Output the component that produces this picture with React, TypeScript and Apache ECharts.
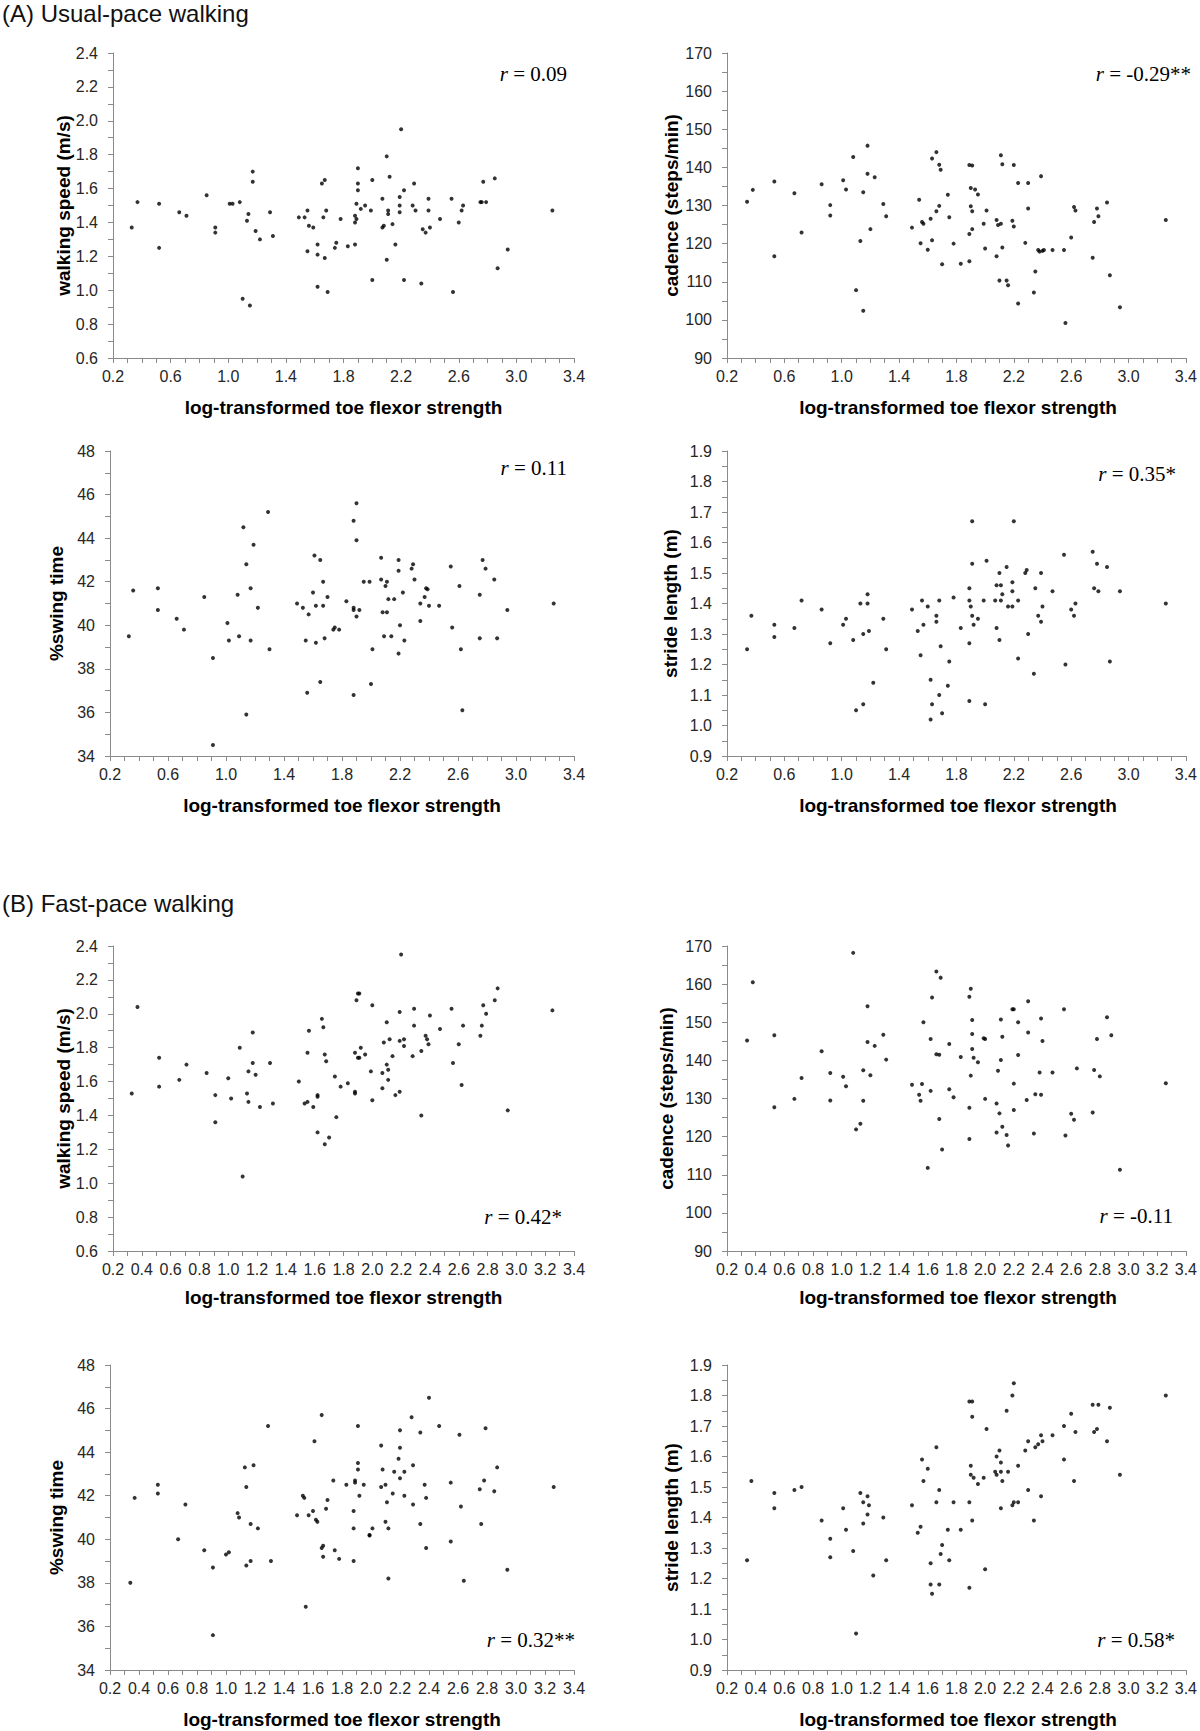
import React, { useEffect, useRef } from 'react';
import * as echarts from 'echarts';

// ---- DATA ----
const usualSpeed: [number, number][] = [
  [0.33,1.37],[0.37,1.52],[0.52,1.51],[0.52,1.25],[0.66,1.46],[0.71,1.44],[0.85,1.56],[0.91,1.37],[0.91,1.34],[1.01,1.51],[1.03,1.51],[1.08,1.52],[1.10,0.95],[1.13,1.41],[1.14,1.45],[1.15,0.91],[1.17,1.70],[1.17,1.64],[1.19,1.35],[1.22,1.30],[1.29,1.46],[1.31,1.32],[1.49,1.43],[1.53,1.43],[1.55,1.23],[1.55,1.47],[1.56,1.38],[1.59,1.37],[1.62,1.21],[1.62,1.27],[1.62,1.02],[1.65,1.63],[1.67,1.65],[1.66,1.43],[1.67,1.19],[1.68,1.47],[1.69,0.99],[1.74,1.25],[1.75,1.28],[1.78,1.42],[1.83,1.26],[1.88,1.27],[1.88,1.40],[1.88,1.44],[1.89,1.51],[1.89,1.42],[1.90,1.72],[1.90,1.63],[1.90,1.59],[1.92,1.48],[1.95,1.50],[1.99,1.47],[2.00,1.65],[2.00,1.06],[2.07,1.54],[2.07,1.37],[2.08,1.38],[2.10,1.18],[2.10,1.79],[2.11,1.47],[2.11,1.45],[2.12,1.67],[2.14,1.39],[2.16,1.27],[2.19,1.55],[2.19,1.50],[2.19,1.46],[2.20,1.95],[2.22,1.59],[2.22,1.06],[2.28,1.50],[2.29,1.63],[2.30,1.47],[2.34,1.04],[2.35,1.36],[2.37,1.34],[2.39,1.54],[2.39,1.47],[2.40,1.37],[2.47,1.42],[2.55,1.54],[2.56,0.99],[2.60,1.40],[2.62,1.47],[2.63,1.50],[2.75,1.52],[2.76,1.52],[2.77,1.64],[2.79,1.52],[2.85,1.66],[2.87,1.13],[2.94,1.24],[3.25,1.47]
];

const usualCadence: [number, number][] = [
  [0.34,131.0],[0.38,134.1],[0.53,136.3],[0.53,116.7],[0.67,133.2],[0.72,122.9],[0.86,135.6],[0.92,130.1],[0.92,127.4],[1.01,136.6],[1.03,134.2],[1.08,142.7],[1.10,107.8],[1.13,120.7],[1.15,133.5],[1.15,102.4],[1.18,145.7],[1.18,138.3],[1.20,123.8],[1.23,137.4],[1.29,130.4],[1.31,127.2],[1.49,124.2],[1.54,131.5],[1.55,120.1],[1.56,125.7],[1.57,125.2],[1.60,118.4],[1.62,126.5],[1.63,120.9],[1.63,142.3],[1.66,144.0],[1.66,128.5],[1.68,140.7],[1.68,129.9],[1.69,139.4],[1.70,114.6],[1.74,132.8],[1.75,126.9],[1.78,120.0],[1.83,114.7],[1.89,140.6],[1.89,122.5],[1.89,115.4],[1.90,134.6],[1.90,129.8],[1.91,140.5],[1.91,128.5],[1.91,123.8],[1.93,134.2],[1.95,132.9],[1.99,125.2],[2.00,118.7],[2.01,128.7],[2.08,116.7],[2.08,126.2],[2.09,124.9],[2.10,110.3],[2.11,143.2],[2.11,125.2],[2.12,119.0],[2.12,140.8],[2.15,110.3],[2.16,109.1],[2.19,126.0],[2.20,124.5],[2.20,140.6],[2.23,135.9],[2.23,104.3],[2.28,120.2],[2.30,135.9],[2.30,129.2],[2.34,107.2],[2.35,112.7],[2.37,118.3],[2.38,117.9],[2.39,137.7],[2.40,118.1],[2.41,118.3],[2.47,118.3],[2.55,118.3],[2.56,99.2],[2.60,121.6],[2.62,129.6],[2.63,128.7],[2.75,116.3],[2.76,125.7],[2.78,129.2],[2.79,127.2],[2.85,130.8],[2.87,111.7],[2.94,103.3],[3.26,126.2]
];

const usualSwing: [number, number][] = [
  [0.33,39.5],[0.36,41.6],[0.53,41.7],[0.53,40.7],[0.66,40.3],[0.71,39.8],[0.85,41.3],[0.91,38.5],[0.91,34.5],[1.01,40.1],[1.02,39.3],[1.08,41.4],[1.09,39.5],[1.12,44.5],[1.14,42.8],[1.14,35.9],[1.17,41.7],[1.17,39.3],[1.19,43.7],[1.22,40.8],[1.29,45.2],[1.30,38.9],[1.49,41.0],[1.53,40.8],[1.55,39.3],[1.56,36.9],[1.57,40.5],[1.60,41.5],[1.61,43.2],[1.62,40.9],[1.62,39.2],[1.65,43.0],[1.65,37.4],[1.67,42.0],[1.67,40.9],[1.68,39.4],[1.70,41.3],[1.74,39.8],[1.75,39.9],[1.78,39.8],[1.83,41.1],[1.88,44.8],[1.88,40.8],[1.88,40.7],[1.88,36.8],[1.90,45.6],[1.90,43.9],[1.90,40.4],[1.92,40.7],[1.95,42.0],[1.99,42.0],[2.00,37.3],[2.01,38.9],[2.07,42.1],[2.07,43.1],[2.08,40.6],[2.09,39.5],[2.10,41.8],[2.11,42.0],[2.11,40.6],[2.12,41.2],[2.14,39.5],[2.16,41.2],[2.19,42.5],[2.19,43.0],[2.19,38.7],[2.20,40.0],[2.22,41.5],[2.23,39.3],[2.28,42.6],[2.29,42.8],[2.30,42.1],[2.34,40.2],[2.34,41.0],[2.37,41.3],[2.38,41.7],[2.39,41.65],[2.40,40.9],[2.47,40.9],[2.55,42.7],[2.56,39.9],[2.61,41.8],[2.62,38.9],[2.63,36.1],[2.75,41.4],[2.75,39.4],[2.77,43.0],[2.79,42.6],[2.85,42.1],[2.87,39.4],[2.94,40.7],[3.26,41.0]
];

const usualStride: [number, number][] = [
  [0.34,1.25],[0.37,1.36],[0.53,1.33],[0.53,1.29],[0.67,1.32],[0.72,1.41],[0.86,1.38],[0.92,1.27],[1.01,1.33],[1.03,1.35],[1.08,1.28],[1.10,1.05],[1.13,1.40],[1.15,1.30],[1.15,1.07],[1.18,1.43],[1.18,1.40],[1.19,1.31],[1.22,1.14],[1.29,1.35],[1.31,1.25],[1.49,1.38],[1.53,1.31],[1.55,1.23],[1.56,1.41],[1.57,1.33],[1.60,1.39],[1.62,1.15],[1.62,1.02],[1.63,1.07],[1.66,1.36],[1.66,1.34],[1.68,1.41],[1.68,1.10],[1.69,1.26],[1.70,1.04],[1.75,1.21],[1.74,1.13],[1.78,1.42],[1.83,1.32],[1.89,1.45],[1.89,1.41],[1.90,1.39],[1.89,1.27],[1.89,1.08],[1.91,1.67],[1.91,1.53],[1.91,1.36],[1.92,1.33],[1.95,1.35],[1.99,1.41],[2.01,1.54],[2.00,1.07],[2.07,1.41],[2.08,1.46],[2.08,1.32],[2.10,1.28],[2.10,1.50],[2.11,1.41],[2.11,1.46],[2.12,1.43],[2.15,1.52],[2.16,1.39],[2.19,1.47],[2.19,1.44],[2.19,1.39],[2.20,1.67],[2.23,1.41],[2.23,1.22],[2.28,1.50],[2.29,1.51],[2.30,1.30],[2.34,1.17],[2.35,1.45],[2.37,1.36],[2.39,1.50],[2.39,1.34],[2.40,1.39],[2.47,1.44],[2.55,1.56],[2.56,1.20],[2.60,1.38],[2.62,1.36],[2.63,1.40],[2.75,1.57],[2.76,1.45],[2.78,1.53],[2.79,1.44],[2.85,1.52],[2.87,1.21],[2.94,1.44],[3.26,1.40]
];

const fastSpeed: [number, number][] = [
  [0.33,1.53],[0.37,2.04],[0.52,1.74],[0.52,1.57],[0.66,1.61],[0.71,1.70],[0.85,1.65],[0.91,1.52],[0.91,1.36],[1.00,1.62],[1.02,1.50],[1.08,1.80],[1.10,1.04],[1.13,1.53],[1.14,1.66],[1.14,1.48],[1.17,1.89],[1.17,1.71],[1.19,1.64],[1.22,1.45],[1.29,1.71],[1.31,1.47],[1.49,1.60],[1.53,1.47],[1.55,1.48],[1.55,1.77],[1.56,1.90],[1.59,1.45],[1.62,1.52],[1.62,1.51],[1.62,1.30],[1.65,1.97],[1.66,1.92],[1.67,1.76],[1.68,1.72],[1.67,1.23],[1.70,1.27],[1.74,1.63],[1.75,1.39],[1.78,1.57],[1.83,1.59],[1.88,1.54],[1.88,1.53],[1.88,1.77],[1.89,2.08],[1.90,1.74],[1.90,2.12],[1.91,2.12],[1.91,1.74],[1.92,1.80],[1.95,1.76],[1.99,1.66],[2.00,2.05],[2.00,1.49],[2.07,1.56],[2.07,1.65],[2.08,1.83],[2.10,1.70],[2.10,1.95],[2.11,1.67],[2.11,1.61],[2.12,1.85],[2.14,1.75],[2.16,1.52],[2.19,1.84],[2.19,2.01],[2.19,1.54],[2.20,2.35],[2.22,1.85],[2.22,1.81],[2.28,1.75],[2.29,2.03],[2.29,1.93],[2.34,1.78],[2.34,1.40],[2.37,1.87],[2.38,1.85],[2.39,1.82],[2.40,1.99],[2.47,1.91],[2.55,2.03],[2.56,1.71],[2.60,1.82],[2.62,1.58],[2.63,1.93],[2.75,1.87],[2.76,1.93],[2.77,2.05],[2.79,2.00],[2.85,2.08],[2.87,2.15],[2.94,1.43],[3.25,2.02]
];

const fastCadence: [number, number][] = [
  [0.34,145.2],[0.38,160.5],[0.53,146.6],[0.53,127.7],[0.67,129.9],[0.72,135.4],[0.86,142.4],[0.92,136.7],[0.92,129.5],[1.01,135.7],[1.03,133.2],[1.08,168.2],[1.10,121.9],[1.13,123.4],[1.15,137.4],[1.15,129.4],[1.18,154.2],[1.18,144.8],[1.20,136.1],[1.23,143.8],[1.29,146.7],[1.31,140.2],[1.49,133.6],[1.54,131.0],[1.55,129.4],[1.56,133.8],[1.57,150.0],[1.60,111.8],[1.62,145.6],[1.62,132.0],[1.63,156.5],[1.66,163.3],[1.66,141.6],[1.68,141.5],[1.68,124.6],[1.69,161.7],[1.70,116.6],[1.75,144.3],[1.75,132.4],[1.78,130.3],[1.83,140.9],[1.89,156.7],[1.89,127.6],[1.89,119.4],[1.90,158.8],[1.90,136.0],[1.91,150.6],[1.91,146.9],[1.91,143.0],[1.92,140.7],[1.95,139.5],[1.99,145.8],[2.00,145.6],[2.00,129.9],[2.08,128.7],[2.08,121.1],[2.09,137.3],[2.10,126.1],[2.11,150.7],[2.11,140.1],[2.12,122.6],[2.12,146.2],[2.15,120.4],[2.16,117.7],[2.19,153.4],[2.20,153.4],[2.20,127.0],[2.20,133.9],[2.23,150.0],[2.23,141.4],[2.29,129.6],[2.30,147.3],[2.30,155.5],[2.34,120.8],[2.35,131.1],[2.38,136.8],[2.39,151.0],[2.39,131.0],[2.40,145.1],[2.47,136.8],[2.55,153.4],[2.56,120.3],[2.60,126.0],[2.62,124.4],[2.64,137.9],[2.75,126.3],[2.76,137.5],[2.78,145.6],[2.80,135.8],[2.85,151.3],[2.88,146.6],[2.94,111.3],[3.26,134.0]
];

const fastSwing: [number, number][] = [
  [0.34,38.0],[0.37,41.9],[0.53,42.5],[0.53,42.1],[0.67,40.0],[0.72,41.6],[0.85,39.5],[0.91,38.7],[0.91,35.6],[1.00,39.3],[1.02,39.4],[1.08,41.2],[1.09,41.0],[1.13,43.3],[1.14,42.4],[1.14,38.8],[1.17,40.7],[1.17,39.0],[1.19,43.4],[1.22,40.5],[1.29,45.2],[1.31,39.0],[1.49,41.1],[1.53,42.0],[1.54,41.9],[1.55,36.9],[1.57,41.1],[1.60,41.3],[1.61,44.5],[1.62,40.9],[1.63,40.8],[1.66,45.7],[1.66,39.6],[1.67,39.7],[1.67,39.2],[1.69,41.4],[1.70,41.8],[1.74,42.7],[1.75,39.5],[1.78,39.1],[1.83,42.5],[1.88,41.3],[1.88,40.5],[1.88,39.0],[1.89,42.7],[1.89,42.6],[1.91,45.2],[1.91,43.5],[1.91,43.2],[1.92,42.0],[1.95,42.5],[1.99,40.2],[1.99,40.17],[2.01,40.5],[2.07,44.3],[2.07,42.4],[2.08,43.2],[2.10,42.5],[2.10,40.8],[2.11,41.7],[2.12,38.2],[2.12,40.5],[2.15,42.1],[2.16,43.1],[2.19,43.7],[2.20,45.0],[2.20,42.8],[2.20,44.2],[2.23,43.1],[2.23,42.0],[2.28,45.6],[2.29,43.4],[2.29,41.6],[2.34,44.9],[2.34,40.7],[2.37,42.5],[2.38,41.9],[2.38,39.6],[2.40,46.5],[2.47,45.2],[2.55,42.6],[2.55,39.9],[2.61,44.8],[2.62,41.5],[2.64,38.1],[2.75,42.3],[2.76,40.7],[2.78,42.7],[2.79,45.1],[2.85,42.2],[2.87,43.3],[2.94,38.6],[3.26,42.4]
];

const fastStride: [number, number][] = [
  [0.34,1.26],[0.37,1.52],[0.53,1.48],[0.53,1.43],[0.67,1.49],[0.72,1.50],[0.86,1.39],[0.92,1.33],[0.92,1.27],[1.01,1.43],[1.03,1.36],[1.08,1.29],[1.10,1.02],[1.13,1.48],[1.15,1.45],[1.15,1.38],[1.18,1.47],[1.18,1.41],[1.19,1.44],[1.22,1.21],[1.29,1.40],[1.31,1.26],[1.49,1.44],[1.53,1.35],[1.55,1.37],[1.56,1.59],[1.57,1.52],[1.60,1.56],[1.62,1.25],[1.62,1.18],[1.63,1.15],[1.66,1.63],[1.66,1.45],[1.68,1.18],[1.68,1.49],[1.69,1.28],[1.70,1.31],[1.74,1.36],[1.75,1.26],[1.78,1.45],[1.83,1.36],[1.89,1.45],[1.89,1.17],[1.89,1.78],[1.90,1.57],[1.90,1.54],[1.91,1.78],[1.91,1.73],[1.91,1.39],[1.92,1.53],[1.95,1.51],[1.99,1.53],[2.01,1.69],[2.00,1.23],[2.07,1.55],[2.08,1.54],[2.08,1.60],[2.10,1.62],[2.11,1.55],[2.11,1.58],[2.11,1.43],[2.12,1.52],[2.15,1.75],[2.16,1.55],[2.19,1.80],[2.19,1.44],[2.20,1.84],[2.20,1.45],[2.23,1.57],[2.23,1.45],[2.28,1.62],[2.30,1.65],[2.30,1.49],[2.34,1.39],[2.35,1.63],[2.37,1.64],[2.39,1.67],[2.39,1.47],[2.40,1.65],[2.47,1.67],[2.55,1.70],[2.55,1.59],[2.60,1.74],[2.62,1.52],[2.63,1.68],[2.75,1.77],[2.76,1.68],[2.78,1.69],[2.79,1.77],[2.85,1.65],[2.87,1.76],[2.94,1.54],[3.26,1.80]
];

// correlation labels
const rLabels: string[] = ['0.09', '-0.29**', '0.11', '0.35*', '0.42*', '-0.11', '0.32**', '0.58*'];
const yTitles: string[] = [
  'walking speed (m/s)', 'cadence (steps/min)', '%swing time', 'stride length (m)',
  'walking speed (m/s)', 'cadence (steps/min)', '%swing time', 'stride length (m)',
];
const xTitle = 'log-transformed toe flexor strength';
const sectionTitles: string[] = ['(A) Usual-pace walking', '(B) Fast-pace walking'];

// y-axis ranges per measure: [min, max, interval, decimals]
const yRanges: [number, number, number, number][] = [
  [0.6, 2.4, 0.2, 1], [90, 170, 10, 0], [34, 48, 2, 0], [0.9, 1.9, 0.1, 1],
  [0.6, 2.4, 0.2, 1], [90, 170, 10, 0], [34, 48, 2, 0], [0.9, 1.9, 0.1, 1],
];
const xRange: [number, number] = [0.2, 3.4];
const xIntervals: number[] = [0.4, 0.4, 0.4, 0.4, 0.2, 0.2, 0.2, 0.2];

const datasets = [usualSpeed, usualCadence, usualSwing, usualStride, fastSpeed, fastCadence, fastSwing, fastStride];

// ---- LAYOUT ----
type Layout = { left: number; top: number; right: number; bottom: number; yTitleX: number; rX: number; rY: number; xTitleY: number };
const layouts: Layout[] = [
  { left: 113, top: 53, right: 574, bottom: 358, yTitleX: 63, rX: 567, rY: 74, xTitleY: 407 },
  { left: 727, top: 53, right: 1189, bottom: 358, yTitleX: 671, rX: 1191, rY: 74, xTitleY: 407 },
  { left: 110, top: 451, right: 574, bottom: 756, yTitleX: 56, rX: 567, rY: 468, xTitleY: 805 },
  { left: 727, top: 451, right: 1189, bottom: 756, yTitleX: 670, rX: 1176, rY: 474, xTitleY: 805 },
  { left: 113, top: 946, right: 574, bottom: 1251, yTitleX: 63, rX: 562, rY: 1217, xTitleY: 1297 },
  { left: 727, top: 946, right: 1189, bottom: 1251, yTitleX: 666, rX: 1173, rY: 1216, xTitleY: 1297 },
  { left: 110, top: 1365, right: 574, bottom: 1670, yTitleX: 56, rX: 575, rY: 1640, xTitleY: 1719 },
  { left: 727, top: 1365, right: 1189, bottom: 1670, yTitleX: 671, rX: 1175, rY: 1640, xTitleY: 1719 },
];

const SANS = '"Liberation Sans", Arial, Helvetica, sans-serif';
const SERIF = '"Liberation Serif", "Times New Roman", serif';
const AXIS = '#8a8a8a';
const LABEL = '#262626';

function buildOption() {
  const grid: any[] = [];
  const xAxis: any[] = [];
  const yAxis: any[] = [];
  const series: any[] = [];
  const graphic: any[] = [];

  layouts.forEach((L, i) => {
    grid.push({ left: L.left, top: L.top, width: L.right - L.left, height: L.bottom - L.top, containLabel: false });
    const xi = xIntervals[i];
    xAxis.push({
      gridIndex: i, type: 'value', min: xRange[0], max: xRange[1], interval: xi,
      axisLine: { show: true, onZero: false, lineStyle: { color: AXIS, width: 1 } },
      axisTick: { show: true, inside: false, length: 5, lineStyle: { color: AXIS } },
      minorTick: { show: true, splitNumber: Math.round(xi / 0.1), length: 5, lineStyle: { color: AXIS } },
      axisLabel: { show: true, margin: 10, fontSize: 16, color: LABEL, fontFamily: SANS, formatter: (v: number) => v.toFixed(1) },
      splitLine: { show: false }, minorSplitLine: { show: false },
    });
    const [ymin, ymax, yint, dec] = yRanges[i];
    yAxis.push({
      gridIndex: i, type: 'value', min: ymin, max: ymax, interval: yint,
      axisLine: { show: true, onZero: false, lineStyle: { color: AXIS, width: 1 } },
      axisTick: { show: true, inside: false, length: 5, lineStyle: { color: AXIS } },
      minorTick: { show: true, splitNumber: 2, length: 5, lineStyle: { color: AXIS } },
      axisLabel: { show: true, margin: 15, fontSize: 16, color: LABEL, fontFamily: SANS, formatter: (v: number) => v.toFixed(dec) },
      splitLine: { show: false }, minorSplitLine: { show: false },
    });
    series.push({
      type: 'scatter', xAxisIndex: i, yAxisIndex: i, data: datasets[i],
      symbol: 'circle', symbolSize: 4, itemStyle: { color: '#000' }, silent: true,
    });
    // x title
    graphic.push({
      type: 'text', x: (L.left + L.right) / 2, y: L.xTitleY,
      style: { text: xTitle, fill: '#000', fontSize: 19, fontWeight: 'bold', fontFamily: SANS,
        align: 'center', verticalAlign: 'middle', textAlign: 'center', textVerticalAlign: 'middle' },
    });
    // y title
    graphic.push({
      type: 'text', x: L.yTitleX, y: (L.top + L.bottom) / 2, rotation: Math.PI / 2,
      style: { text: yTitles[i], fill: '#000', fontSize: 19, fontWeight: 'bold', fontFamily: SANS,
        align: 'center', verticalAlign: 'middle', textAlign: 'center', textVerticalAlign: 'middle' },
    });
    // r label
    graphic.push({
      type: 'text', x: L.rX, y: L.rY,
      style: {
        text: '{i|r}{n| = ' + rLabels[i] + '}',
        rich: {
          i: { fontStyle: 'italic', fontSize: 21, fontFamily: SERIF, fill: '#000' },
          n: { fontSize: 21, fontFamily: SERIF, fill: '#000' },
        },
        fontSize: 21, fontFamily: SERIF, fill: '#000',
        align: 'right', verticalAlign: 'middle', textAlign: 'right', textVerticalAlign: 'middle',
      },
    });
  });

  graphic.push({
    type: 'text', x: 2, y: 13,
    style: { text: sectionTitles[0], fill: '#111', fontSize: 24, fontFamily: SANS,
      align: 'left', verticalAlign: 'middle', textAlign: 'left', textVerticalAlign: 'middle' },
  });
  graphic.push({
    type: 'text', x: 2, y: 903,
    style: { text: sectionTitles[1], fill: '#111', fontSize: 24, fontFamily: SANS,
      align: 'left', verticalAlign: 'middle', textAlign: 'left', textVerticalAlign: 'middle' },
  });

  return {
    animation: false,
    backgroundColor: '#ffffff',
    grid, xAxis, yAxis, series, graphic,
  };
}

export default function App() {
  const ref = useRef<HTMLDivElement>(null);
  useEffect(() => {
    if (!ref.current) return;
    const chart = echarts.init(ref.current, undefined, { renderer: 'svg' });
    chart.setOption(buildOption() as any);
    return () => chart.dispose();
  }, []);
  return <div ref={ref} style={{ position: 'absolute', left: 0, top: 0, width: 1200, height: 1731, background: '#fff' }} />;
}
